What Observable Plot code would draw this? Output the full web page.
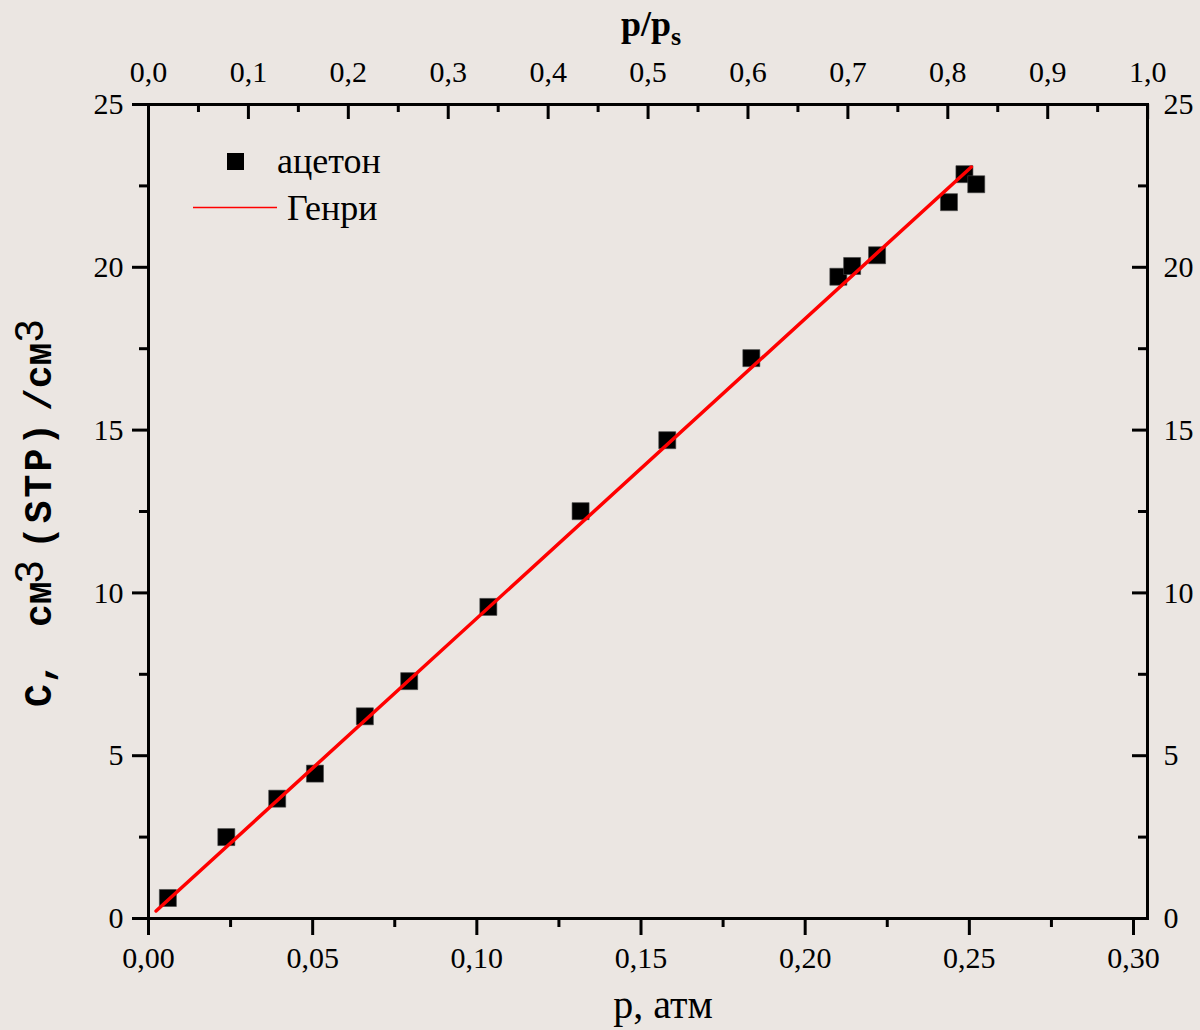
<!DOCTYPE html>
<html>
<head>
<meta charset="utf-8">
<script src="https://cdn.jsdelivr.net/npm/d3@7"></script>
<script src="https://cdn.jsdelivr.net/npm/@observablehq/plot@0.6"></script>
<style>
  html, body { margin: 0; padding: 0; background: #ebe6e2; }
  #chart { width: 1200px; height: 1030px; }
</style>
</head>
<body>
<div id="chart"></div>
<script>
// Saturation pressure (atm) used for the top p/ps axis
const PS = 0.3043;

// Acetone sorption data: pressure (atm) and concentration C (cm3(STP)/cm3)
const pAtm = [0.0059, 0.0237, 0.0392, 0.0507, 0.0659, 0.0794, 0.1035, 0.1316, 0.1580, 0.1836, 0.2101, 0.2143, 0.2219, 0.2438, 0.2485, 0.2521];
const cAcetone = [0.63, 2.50, 3.68, 4.45, 6.21, 7.29, 9.57, 12.51, 14.69, 17.21, 19.71, 20.04, 20.37, 22.00, 22.86, 22.55];

// Henry's law line endpoints
const henryP = [0.0023, 0.2506];
const henryC = [0.23, 23.08];

// Tick values
const bottomMajor = [0, 0.05, 0.10, 0.15, 0.20, 0.25, 0.30];
const bottomMinor = [0.025, 0.075, 0.125, 0.175, 0.225, 0.275];
const topMajor = [0, 0.1, 0.2, 0.3, 0.4, 0.5, 0.6, 0.7, 0.8, 0.9, 1.0];
const topMinor = [0.05, 0.15, 0.25, 0.35, 0.45, 0.55, 0.65, 0.75, 0.85, 0.95];
const yMajor = [0, 5, 10, 15, 20, 25];
const yMinor = [2.5, 7.5, 12.5, 17.5, 22.5];

const acetone = pAtm.map((p, i) => ({p, c: cAcetone[i]}));
const henry = henryP.map((p, i) => ({p, c: henryC[i]}));

const comma = (s) => s.replace(".", ",");
const FS = 30;
const W = 1200, H = 1030, ML = 148, MR = 53, MT = 104, MB = 112;
const innerW = W - ML - MR, innerH = H - MT - MB;

const svg = Plot.plot({
  width: W,
  height: H,
  marginLeft: ML,
  marginRight: MR,
  marginTop: MT,
  marginBottom: MB,
  style: {background: "#ebe6e2", fontFamily: "Liberation Serif", fontSize: "30px", color: "black"},
  x: {domain: [0, 0.30426]},
  y: {domain: [0, 25]},
  marks: [
    // bottom axis (outward ticks)
    Plot.axisX(bottomMajor, {anchor: "bottom", tickSize: 17, tickPadding: 11, strokeWidth: 3, fontSize: FS, tickFormat: d => comma(d.toFixed(2)), label: null}),
    Plot.axisX(bottomMinor, {anchor: "bottom", tickSize: 9, strokeWidth: 3, tickFormat: () => "", label: null}),
    // top axis p/ps (inward ticks)
    Plot.axisX(topMajor.map(t => t * PS), {anchor: "top", tickSize: 0, tickPadding: 23, fontSize: FS, tickFormat: d => comma((d / PS).toFixed(1)), label: null}),
    Plot.ruleX(topMajor, {x: d => d * PS, insetBottom: innerH - 15, stroke: "black", strokeWidth: 3}),
    Plot.ruleX(topMinor, {x: d => d * PS, insetBottom: innerH - 8, stroke: "black", strokeWidth: 3}),
    // left axis (outward ticks)
    Plot.axisY(yMajor, {anchor: "left", tickSize: 16, tickPadding: 9, strokeWidth: 3, fontSize: FS, tickFormat: d => String(d), label: null}),
    Plot.axisY(yMinor, {anchor: "left", tickSize: 9, strokeWidth: 3, tickFormat: () => "", label: null}),
    // right axis (inward ticks)
    Plot.axisY(yMajor, {anchor: "right", tickSize: 0, tickPadding: 16, fontSize: FS, tickFormat: d => String(d), label: null}),
    Plot.ruleY(yMajor, {y: d => d, insetLeft: innerW - 15, stroke: "black", strokeWidth: 3}),
    Plot.ruleY(yMinor, {y: d => d, insetLeft: innerW - 9, stroke: "black", strokeWidth: 3}),
    Plot.frame({stroke: "black", strokeWidth: 3}),
    // data
    Plot.dot(acetone, {x: "p", y: "c", symbol: "square", r: 9.6, fill: "black", stroke: "#444", strokeWidth: 0.6}),
    Plot.line(henry, {x: "p", y: "c", stroke: "#ff0000", strokeWidth: 3.5})
  ]
});

const s = d3.select(svg);

// top axis title p/ps
const tt = s.append("text")
  .attr("x", 651).attr("y", 36)
  .attr("text-anchor", "middle")
  .attr("font-family", "Liberation Serif")
  .attr("font-weight", "bold")
  .attr("font-size", 36)
  .attr("fill", "black");
tt.append("tspan").text("p/p");
tt.append("tspan").attr("font-size", 26).attr("dy", 9).text("s");

// bottom axis title
s.append("text")
  .attr("x", 663).attr("y", 1018)
  .attr("text-anchor", "middle")
  .attr("font-family", "Liberation Serif")
  .attr("font-size", 40)
  .attr("fill", "black")
  .text("p, атм");

// y axis title (rotated); pieces placed along the rotated baseline
const yt = s.append("text")
  .attr("transform", "translate(51,508) rotate(-90)")
  .attr("text-anchor", "start")
  .attr("font-family", "Liberation Mono")
  .attr("font-weight", "bold")
  .attr("font-size", 38)
  .attr("fill", "black");
const sup = {"font-family": "Liberation Sans", "font-weight": "normal", "font-size": 40};
yt.append("tspan").attr("x", -199).attr("y", 0).text("C,");
yt.append("tspan").attr("x", -119).attr("y", 0).text("см");
const s1 = yt.append("tspan").attr("x", -75).attr("y", -8).text("3");
Object.entries(sup).forEach(([k, v]) => s1.attr(k, v));
yt.append("tspan").attr("x", -41).attr("y", 0).attr("letter-spacing", 3).text("(STP)");
yt.append("tspan").attr("x", 97).attr("y", 0).attr("letter-spacing", 0).text("/см");
const s2 = yt.append("tspan").attr("x", 166).attr("y", -8).text("3");
Object.entries(sup).forEach(([k, v]) => s2.attr(k, v));

// legend
const lg = s.append("g").attr("text-anchor", "start");
lg.append("rect").attr("x", 227).attr("y", 153).attr("width", 17).attr("height", 17).attr("fill", "black");
lg.append("text").attr("x", 277).attr("y", 173).attr("text-anchor", "start")
  .attr("font-family", "Liberation Serif").attr("font-size", 36).attr("fill", "black").text("ацетон");
lg.append("line").attr("x1", 193).attr("x2", 277).attr("y1", 207.5).attr("y2", 207.5)
  .attr("stroke", "#ff0000").attr("stroke-width", 1.5);
lg.append("text").attr("x", 287).attr("y", 220).attr("text-anchor", "start")
  .attr("font-family", "Liberation Serif").attr("font-size", 36).attr("fill", "black").text("Генри");

document.getElementById("chart").appendChild(svg);
</script>
</body>
</html>
